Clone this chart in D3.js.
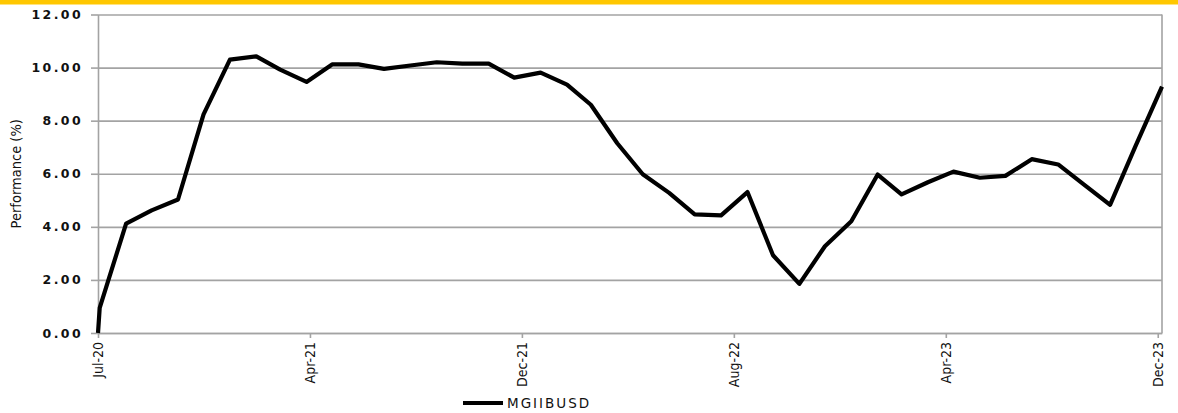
<!DOCTYPE html>
<html>
<head>
<meta charset="utf-8">
<script src="https://cdn.jsdelivr.net/npm/d3@7"></script>
<style>
    body { margin: 0; background: #fff; }
    svg { display: block; }
</style>
</head>
<body>
<div id="chart"></div>
<script>
// inception date, then month ends
const dates = [
    "2020-07-29", "2020-07-31", "2020-08-31", "2020-09-30", "2020-10-31", "2020-11-30", "2020-12-31",
    "2021-01-31", "2021-02-28", "2021-03-31", "2021-04-30", "2021-05-31", "2021-06-30",
    "2021-07-31", "2021-08-31", "2021-09-30", "2021-10-31", "2021-11-30", "2021-12-31",
    "2022-01-31", "2022-02-28", "2022-03-31", "2022-04-30", "2022-05-31", "2022-06-30",
    "2022-07-31", "2022-08-31", "2022-09-30", "2022-10-31", "2022-11-30", "2022-12-31",
    "2023-01-31", "2023-02-28", "2023-03-31", "2023-04-30", "2023-05-31", "2023-06-30",
    "2023-07-31", "2023-08-31", "2023-09-30", "2023-10-31", "2023-11-30", "2023-12-31"
];
const perf = [
    0, 0.95, 4.12, 4.62, 5.03, 8.24, 10.30,
    10.42, 9.92, 9.46, 10.12, 10.12, 9.95,
    10.08, 10.20, 10.15, 10.15, 9.62, 9.81,
    9.36, 8.60, 7.15, 5.98, 5.28, 4.47,
    4.43, 5.31, 2.93, 1.85, 3.27, 4.21,
    5.97, 5.22, 5.68, 6.08, 5.85, 5.92,
    6.55, 6.35, 5.60, 4.83, 7.05, 9.28
];
const seriesName = "MGIIBUSD";

const xTickDates = ["2020-07-29", "2021-04-04", "2021-12-09", "2022-08-15", "2023-04-21", "2023-12-26"];
const xTickLabels = ["Jul-20", "Apr-21", "Dec-21", "Aug-22", "Apr-23", "Dec-23"];
const yTicks = [0, 2, 4, 6, 8, 10, 12];

const W = 1178, H = 413;
const parse = d3.timeParse("%Y-%m-%d");
const data = dates.map((d, i) => ({date: parse(d), v: perf[i]}));

const svg = d3.select("#chart").append("svg")
    .attr("width", W)
    .attr("height", H);

// yellow band at the top
svg.append("rect")
    .attr("x", 0).attr("y", 0)
    .attr("width", W).attr("height", 4.5)
    .attr("fill", "#FFC700");

const x = d3.scaleTime()
    .domain(d3.extent(data, d => d.date))
    .range([98, 1162]);
const y = d3.scaleLinear()
    .domain([0, 12])
    .range([333, 14.5]);

const gridColor = "#a3a3a3";
const condensed = "'DejaVu Sans Condensed', 'DejaVu Sans', sans-serif";

// gridlines
svg.append("g")
    .attr("transform", "translate(98,0)")
    .call(d3.axisLeft(y).tickValues(yTicks).tickSize(-(1162 - 98)).tickFormat(""))
    .call(g => g.select(".domain").remove())
    .call(g => g.selectAll("line").attr("stroke", gridColor).attr("stroke-width", 1.6));

// right border
svg.append("line")
    .attr("x1", 1162).attr("x2", 1162)
    .attr("y1", y(12)).attr("y2", y(0))
    .attr("stroke", gridColor).attr("stroke-width", 1.6);

// y axis
svg.append("g")
    .attr("transform", "translate(98,0)")
    .call(d3.axisLeft(y).tickValues(yTicks).tickSize(7).tickSizeOuter(0).tickPadding(8)
        .tickFormat(d3.format(".2f")))
    .call(g => g.select(".domain").attr("stroke", gridColor).attr("stroke-width", 1.6))
    .call(g => g.selectAll(".tick line").attr("stroke", gridColor).attr("stroke-width", 1.6))
    .call(g => g.selectAll("text")
        .attr("fill", "#111")
        .style("font-family", "'DejaVu Sans', Verdana, sans-serif")
        .style("font-size", "12.5px")
        .style("font-weight", "bold")
        .style("letter-spacing", "2.4px"));

// x axis
svg.append("g")
    .attr("transform", `translate(0,${y(0)})`)
    .call(d3.axisBottom(x).tickValues(xTickDates.map(parse)).tickSize(5).tickSizeOuter(0)
        .tickFormat((d, i) => xTickLabels[i]))
    .call(g => g.select(".domain").attr("stroke", gridColor).attr("stroke-width", 1.6))
    .call(g => g.selectAll(".tick line").attr("stroke", gridColor).attr("stroke-width", 1.6))
    .call(g => g.selectAll("text")
        .attr("transform", "rotate(-90)")
        .attr("x", -9)
        .attr("y", 0)
        .attr("dy", "0.35em")
        .attr("text-anchor", "end")
        .attr("fill", "#111")
        .style("font-family", condensed)
        .style("font-stretch", "condensed")
        .style("font-size", "14px"));

// y axis title
svg.append("text")
    .attr("transform", `translate(21,${(y(0) + y(12)) / 2}) rotate(-90)`)
    .attr("text-anchor", "middle")
    .attr("fill", "#111")
    .style("font-family", condensed)
    .style("font-stretch", "condensed")
    .style("font-size", "14.5px")
    .text("Performance (%)");

// series line
const line = d3.line()
    .x(d => x(d.date))
    .y(d => y(d.v));

svg.append("path")
    .datum(data)
    .attr("fill", "none")
    .attr("stroke", "#000")
    .attr("stroke-width", 4.2)
    .attr("stroke-linejoin", "round")
    .attr("d", line);

// legend
const legend = svg.append("g").attr("transform", "translate(463,403)");
legend.append("line")
    .attr("x1", 0).attr("x2", 40)
    .attr("stroke", "#000").attr("stroke-width", 4.2);
legend.append("text")
    .attr("x", 44)
    .attr("dy", "0.36em")
    .attr("fill", "#111")
    .style("font-family", "'DejaVu Sans', Verdana, sans-serif")
    .style("font-size", "13.5px")
    .style("letter-spacing", "2px")
    .text(seriesName);
</script>
</body>
</html>
